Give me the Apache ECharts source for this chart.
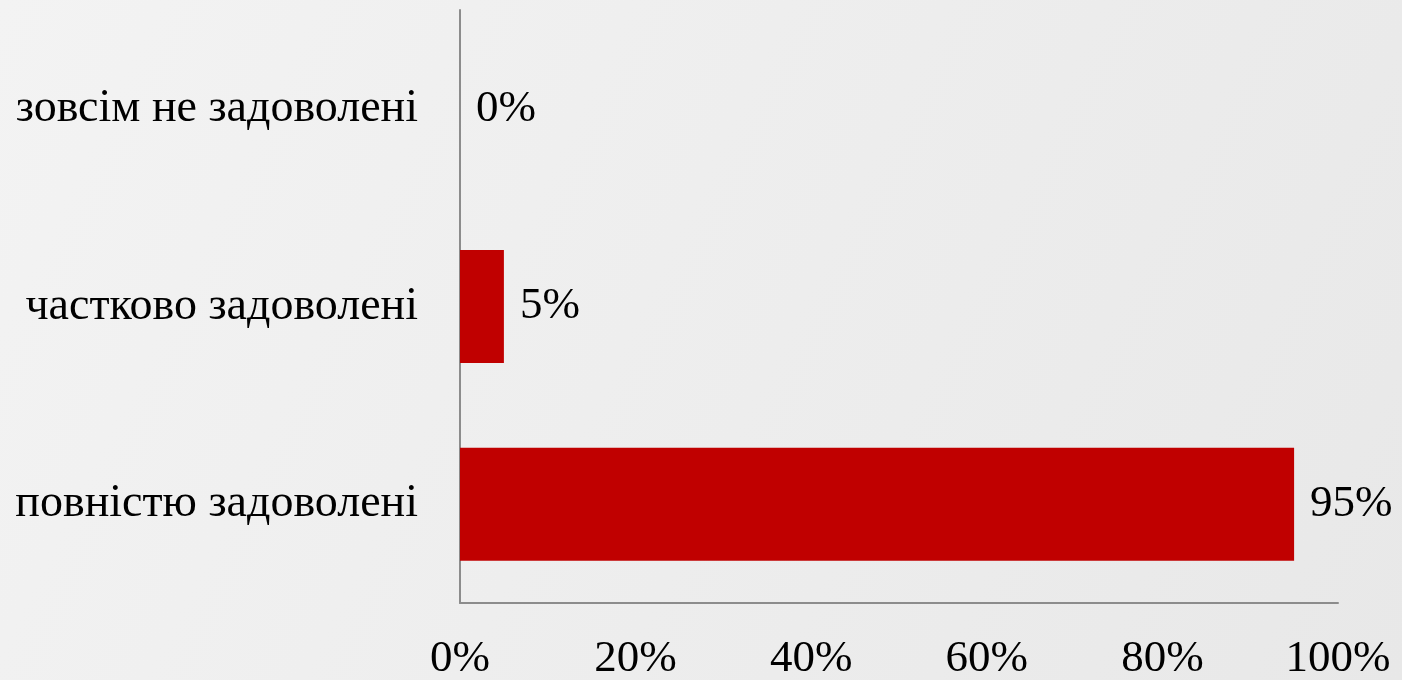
<!DOCTYPE html>
<html><head><meta charset="utf-8">
<script src="https://cdn.jsdelivr.net/npm/echarts@6/dist/echarts.min.js"></script>
<style>html,body{margin:0;padding:0;}#c{width:1402px;height:680px;}</style>
</head><body><div id="c"></div>
<script>
const categories = ['повністю задоволені', 'частково задоволені', 'зовсім не задоволені'];
const values = [95, 5, 0];
const xTicks = [0, 20, 40, 60, 80, 100];

const font = '"Liberation Serif", "DejaVu Serif", serif';
const chart = echarts.init(document.getElementById('c'));
chart.setOption({
  backgroundColor: {type:'linear', x:0, y:0, x2:1, y2:1, colorStops:[{offset:0,color:'#f3f3f3'},{offset:1,color:'#e8e8e8'}]},
  animation: false,
  grid: {left: 460, right: 64, top: 10, bottom: 77, containLabel: false, outerBoundsMode: 'none'},
  xAxis: {
    type: 'value', min: 0, max: 100, interval: 20,
    axisLine: {show: true, lineStyle: {color: '#8c8c8c', width: 2}},
    axisTick: {show: false},
    splitLine: {show: false},
    axisLabel: {formatter: v => v + '%', fontFamily: font, fontSize: 45, color: '#000', margin: 34}
  },
  yAxis: {
    type: 'category', data: categories,
    axisLine: {show: true, lineStyle: {color: '#8c8c8c', width: 2}},
    axisTick: {show: false},
    axisLabel: {fontFamily: font, fontSize: 46, color: '#000', margin: 42, padding: [8, 0, 0, 0]}
  },
  series: [{
    type: 'bar', data: values, barWidth: 113,
    itemStyle: {color: '#c00000'},
    label: {show: true, position: 'right', distance: 16, padding: [8, 0, 0, 0], formatter: p => p.value + '%', fontFamily: font, fontSize: 45, color: '#000'}
  }]
});
</script></body></html>
